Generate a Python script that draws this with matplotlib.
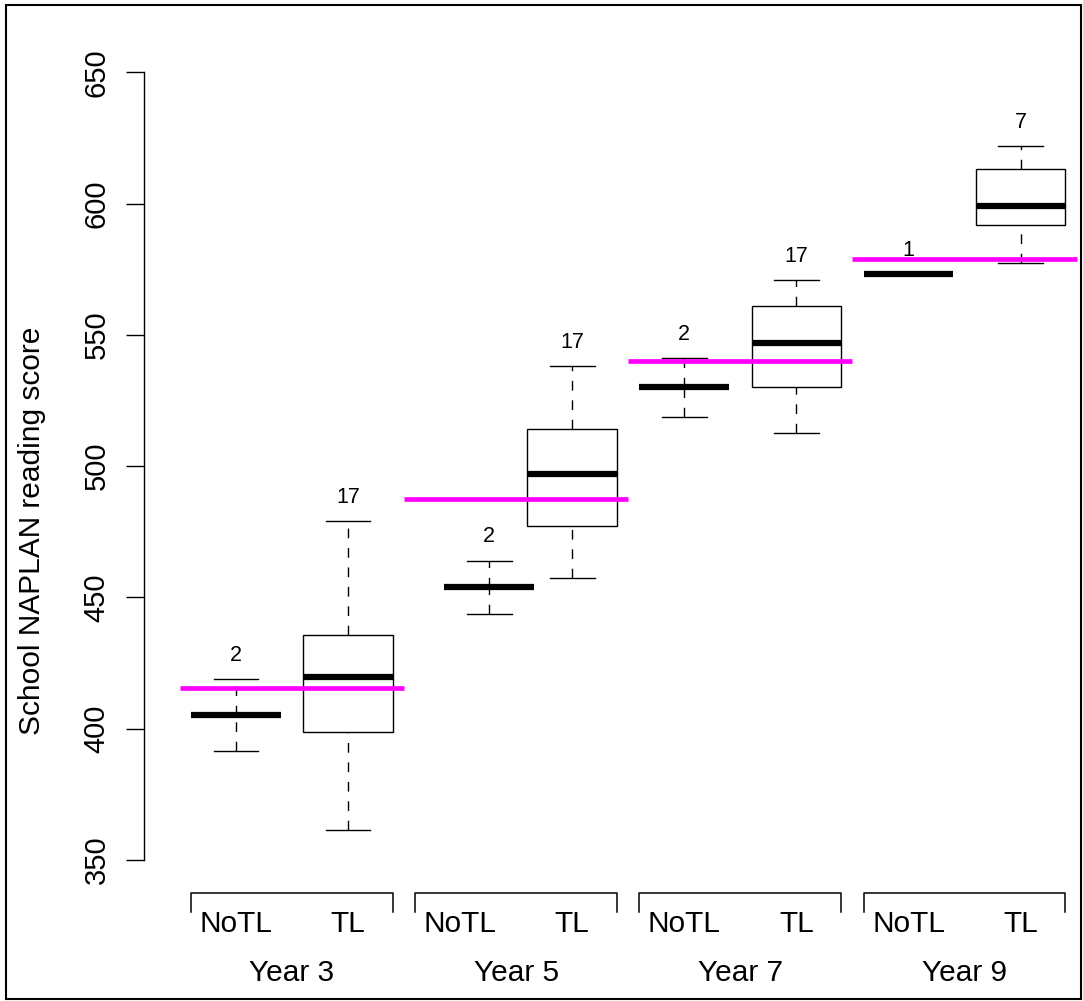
import matplotlib
matplotlib.use("Agg")
import matplotlib.pyplot as plt
from matplotlib.patches import Rectangle

plt.rcParams['font.family'] = ['Liberation Sans', 'DejaVu Sans']
plt.rcParams['lines.scale_dashes'] = False

# data
years = ["Year 3", "Year 5", "Year 7", "Year 9"]
groups = ["NoTL", "TL"]
# one entry per box: Y3 NoTL, Y3 TL, Y5 NoTL, Y5 TL, Y7 NoTL, Y7 TL, Y9 NoTL, Y9 TL
whisk_lo = [391.5, 361.5, 443.5, 457.5, 518.5, 512.5, 573.0, 577.5]
q1 = [405.0, 398.5, 454.0, 477.0, 530.0, 530.0, 573.0, 592.0]
med = [405.0, 419.5, 454.0, 497.0, 530.0, 547.0, 573.0, 599.0]
q3 = [405.0, 435.5, 454.0, 514.0, 530.0, 561.0, 573.0, 613.0]
whisk_hi = [419.0, 479.0, 464.0, 538.0, 541.0, 571.0, 573.0, 622.0]
counts = [2, 17, 2, 17, 2, 17, 1, 7]
year_means = [415.5, 487.5, 540.0, 579.0]

W, H = 1083, 1001


def yval(py):
    # pixel row -> score
    return 650 - (py - 72.3) / 2.625


fig = plt.figure(figsize=(W / 100, H / 100), dpi=100)
ax = fig.add_axes([144 / W, 0, (W - 144) / W, 1])
ax.set_xlim(0.18, 0.18 + (W - 144) / 112.1)
ax.set_ylim(yval(H), yval(0))

base = [i + 1 for i in range(len(med))]
shift = [0, 0, 0.26, 0, 0, 0, 0, 0]

for i in range(len(med)):
    x = base[i] + shift[i]
    if q3[i] > q1[i]:
        ax.add_patch(Rectangle((x - 0.4, q1[i]), 0.8, q3[i] - q1[i],
                               facecolor='white', edgecolor='black', lw=1.0, zorder=2))
    ax.plot([x, x], [q3[i], whisk_hi[i]], color='black', lw=1.0, dashes=(7, 7), zorder=1)
    ax.plot([x, x], [whisk_lo[i], q1[i]], color='black', lw=1.0, dashes=(7, 7), zorder=1)
    ax.plot([x - 0.2, x + 0.2], [whisk_hi[i]] * 2, color='black', lw=1.0, zorder=2)
    ax.plot([x - 0.2, x + 0.2], [whisk_lo[i]] * 2, color='black', lw=1.0, zorder=2)
    ax.plot([x - 0.4, x + 0.4], [med[i]] * 2, color='black', lw=4.5,
            solid_capstyle='butt', zorder=3)
    ax.annotate(str(counts[i]), (x, whisk_hi[i]), xytext=(0, 17),
                textcoords='offset points', ha='center', va='center',
                fontsize=15.5, zorder=5)

# year means
for g, m in enumerate(year_means):
    ax.plot([2 * g + 0.5, 2 * g + 2.5], [m, m], color='#ff00ff', lw=3.4,
            solid_capstyle='butt', zorder=4)

# group brackets and labels
for g, name in enumerate(years):
    a, b = 2 * g + 1, 2 * g + 2
    ax.plot([a - 0.4, a - 0.4, b + 0.4, b + 0.4],
            [yval(912), yval(893), yval(893), yval(912)],
            color='black', lw=1.1, clip_on=False)
    ax.text(a, yval(924), groups[0], ha='center', va='center', fontsize=21.5)
    ax.text(b, yval(924), groups[1], ha='center', va='center', fontsize=21.5)
    ax.text((a + b) / 2, yval(973), name, ha='center', va='center', fontsize=21.5)

ax.set_yticks([350, 400, 450, 500, 550, 600, 650])
ax.tick_params(axis='y', length=13, width=1, labelsize=21, pad=11)
for lab in ax.get_yticklabels():
    lab.set_rotation(90)
    lab.set_va('center')
ax.set_xticks([])
for s in ['top', 'right', 'bottom']:
    ax.spines[s].set_visible(False)
ax.spines['left'].set_bounds(350, 650)
ax.spines['left'].set_linewidth(1)
ax.patch.set_alpha(0)

fig.text(32 / W, 1 - 531 / H, "School NAPLAN reading score", rotation=90,
         ha='center', va='center', fontsize=21.5)

fig.add_artist(Rectangle((6 / W, 1 - 999 / H), (1081 - 6) / W, (999 - 5) / H,
                         transform=fig.transFigure, fill=False, lw=1.5,
                         edgecolor='black', zorder=10))

fig.savefig("out.png", dpi=100)
